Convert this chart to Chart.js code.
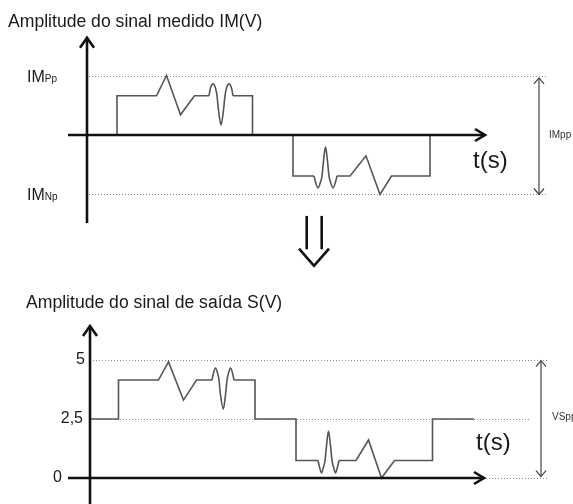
<!DOCTYPE html>
<html>
<head>
<meta charset="utf-8">
<script src="https://cdn.jsdelivr.net/npm/chart.js@4.4.1/dist/chart.umd.min.js"></script>
<style>
  html, body { margin: 0; padding: 0; background: #fff; }
  #wrap { width: 573px; height: 504px; }
</style>
</head>
<body>
<div id="wrap"><canvas id="sig" width="573" height="504"></canvas></div>
<script>
// Sinal medido IM(V): tempo (unidades arbitrárias) e amplitude normalizada (IMPp = 1, IMNp = -1)
const topStepT = [3.0, 3.0, 6.95, 7.95, 9.35, 10.75, 12.2, 13.4, 14.6, 16.55, 16.55, 20.6, 20.6, 22.7, 23.85, 25.0, 26.3, 27.9, 29.3, 30.45, 34.3, 34.3];
const topStepV = [0, 0.66, 0.66, 1.0, 0.34, 0.66, 0.66, null, 0.66, 0.66, 0, 0, -0.69, -0.69, null, -0.69, -0.69, -0.35, -1.0, -0.69, -0.69, 0];
const topRipple1T = [12.2, 12.35, 12.6, 12.85, 13.0, 13.15, 13.4, 13.65, 13.8, 13.95, 14.2, 14.45, 14.6];
const topRipple1V = [0.66, 0.79, 0.86, 0.79, 0.66, 0.42, 0.17, 0.42, 0.66, 0.79, 0.86, 0.79, 0.66];
const topRipple2T = [22.7, 22.85, 23.1, 23.35, 23.5, 23.65, 23.85, 24.05, 24.2, 24.35, 24.6, 24.85, 25.0];
const topRipple2V = [-0.69, -0.79, -0.89, -0.79, -0.69, -0.44, -0.2, -0.44, -0.69, -0.79, -0.89, -0.79, -0.69];

// Sinal de saída S(V)
const botStepT = [0, 2.85, 2.85, 6.85, 7.85, 9.35, 10.65, 12.2, 13.3, 14.4, 16.5, 16.5, 20.6, 20.6, 22.8, 23.85, 24.9, 26.6, 27.85, 29.15, 30.45, 34.25, 34.25, 38.4];
const botStepV = [2.5, 2.5, 4.15, 4.15, 4.92, 3.3, 4.15, 4.15, null, 4.15, 4.15, 2.5, 2.5, 0.74, 0.74, null, 0.74, 0.74, 1.61, 0, 0.74, 0.74, 2.5, 2.5];
const botRipple1T = [12.2, 12.35, 12.55, 12.75, 12.9, 13.05, 13.33, 13.55, 13.7, 13.85, 14.05, 14.25, 14.4];
const botRipple1V = [4.15, 4.45, 4.66, 4.45, 4.15, 3.52, 2.92, 3.52, 4.15, 4.45, 4.66, 4.45, 4.15];
const botRipple2T = [22.8, 22.95, 23.15, 23.35, 23.5, 23.65, 23.85, 24.05, 24.2, 24.35, 24.55, 24.75, 24.9];
const botRipple2V = [0.74, 0.47, 0.21, 0.47, 0.74, 1.36, 1.99, 1.36, 0.74, 0.47, 0.21, 0.47, 0.74];

// Níveis de referência e rótulos
const topLevels = [1, -1];
const topLevelLabels = [['IM', 'Pp'], ['IM', 'Np']];
const botTicks = [5, 2.5, 0];
const botTickLabels = ['5', '2,5', '0'];

const FONT = '"Liberation Sans", Arial, Helvetica, sans-serif';
const WAVE = '#555';
const INK = '#111';

const pts = (ts, vs) => ts.map((t, i) => ({ x: t, y: vs[i] }));

function wave(ts, vs, xId, yId, smooth) {
    return {
        data: pts(ts, vs),
        xAxisID: xId,
        yAxisID: yId,
        borderColor: WAVE,
        borderWidth: 1.6,
        pointRadius: 0,
        fill: false,
        spanGaps: false,
        tension: smooth ? 0.4 : 0,
        cubicInterpolationMode: smooth ? 'monotone' : 'default'
    };
}

function line(ctx, x1, y1, x2, y2) {
    ctx.beginPath();
    ctx.moveTo(x1, y1);
    ctx.lineTo(x2, y2);
    ctx.stroke();
}

// open chevron head at (x, y) pointing in direction (dx, dy)
function head(ctx, x, y, dx, dy, len, half) {
    const nx = -dy, ny = dx;
    ctx.beginPath();
    ctx.moveTo(x - dx * len + nx * half, y - dy * len + ny * half);
    ctx.lineTo(x, y);
    ctx.lineTo(x - dx * len - nx * half, y - dy * len - ny * half);
    ctx.stroke();
}

function dotted(ctx, x1, x2, y) {
    ctx.save();
    ctx.strokeStyle = '#888';
    ctx.lineWidth = 1;
    ctx.setLineDash([1, 2]);
    line(ctx, x1, Math.round(y) + 0.5, x2, Math.round(y) + 0.5);
    ctx.restore();
}

const decor = {
    id: 'decor',
    beforeDatasetsDraw(chart) {
        const ctx = chart.ctx;
        const xT = chart.scales.xTop, yT = chart.scales.yTop;
        const xB = chart.scales.xBot, yB = chart.scales.yBot;
        topLevels.forEach(v => dotted(ctx, xT.getPixelForValue(0.2), xT.getPixelForValue(45.9), yT.getPixelForValue(v)));
        dotted(ctx, xB.getPixelForValue(0.3), xB.getPixelForValue(45.7), yB.getPixelForValue(5));
        dotted(ctx, xB.getPixelForValue(0.3), xB.getPixelForValue(44.0), yB.getPixelForValue(2.5));
        dotted(ctx, xB.getPixelForValue(0.3), xB.getPixelForValue(45.8), yB.getPixelForValue(0));
    },
    afterDatasetsDraw(chart) {
        const ctx = chart.ctx;
        const xT = chart.scales.xTop, yT = chart.scales.yTop;
        const xB = chart.scales.xBot, yB = chart.scales.yBot;
        ctx.save();

        // eixos (preto, grossos, com ponta aberta)
        ctx.strokeStyle = INK;
        ctx.lineWidth = 2.6;
        ctx.lineJoin = 'miter';
        ctx.lineCap = 'butt';
        const axes = [[xT, yT, -1.48, 1.65, -1.9, 39.9], [xB, yB, -1.3, 6.48, -2.2, 39.5]];
        axes.forEach(([xs, ys, yLo, yHi, xLo, xHi]) => {
            const x0 = xs.getPixelForValue(0), y0 = ys.getPixelForValue(0);
            const top = ys.getPixelForValue(yHi);
            const right = xs.getPixelForValue(xHi);
            line(ctx, x0, ys.getPixelForValue(yLo), x0, top + 1);
            head(ctx, x0, top + 1, 0, -1, 10, 7);
            line(ctx, xs.getPixelForValue(xLo), y0, right - 1, y0);
            head(ctx, right - 1, y0, 1, 0, 10, 6);
        });

        // seta dupla para baixo entre os gráficos
        ctx.lineWidth = 2.6;
        const sL = xT.getPixelForValue(21.97), sR = xT.getPixelForValue(23.47);
        line(ctx, sL, yT.getPixelForValue(-1.36), sL, yT.getPixelForValue(-1.92));
        line(ctx, sR, yT.getPixelForValue(-1.36), sR, yT.getPixelForValue(-1.92));
        ctx.beginPath();
        ctx.moveTo(xT.getPixelForValue(21.2), yT.getPixelForValue(-1.91));
        ctx.lineTo(xT.getPixelForValue(22.7), yT.getPixelForValue(-2.2));
        ctx.lineTo(xT.getPixelForValue(24.2), yT.getPixelForValue(-1.91));
        ctx.stroke();

        // setas de amplitude pico a pico
        ctx.strokeStyle = '#444';
        ctx.lineWidth = 1.2;
        const pp = [[xT.getPixelForValue(45.2), yT.getPixelForValue(0.96), yT.getPixelForValue(-1)],
                    [xB.getPixelForValue(45.1), yB.getPixelForValue(4.97), yB.getPixelForValue(0.06)]];
        pp.forEach(([x, a, b]) => {
            line(ctx, x, a, x, b);
            head(ctx, x, a, 0, -1, 6, 5);
            head(ctx, x, b, 0, 1, 6, 5);
        });

        // textos
        ctx.fillStyle = '#1a1a1a';
        ctx.textBaseline = 'middle';
        ctx.textAlign = 'left';
        ctx.font = '17.6px ' + FONT;
        ctx.fillText('Amplitude do sinal medido IM(V)', xT.getPixelForValue(-7.9), yT.getPixelForValue(1.9));
        ctx.fillText('Amplitude do sinal de saída S(V)', xB.getPixelForValue(-6.4), yB.getPixelForValue(7.42));

        ctx.textBaseline = 'alphabetic';
        topLevels.forEach((v, i) => {
            const y = yT.getPixelForValue(v) + 6;
            let x = xT.getPixelForValue(-6.0);
            ctx.font = '16px ' + FONT;
            ctx.fillText(topLevelLabels[i][0], x, y);
            x += ctx.measureText(topLevelLabels[i][0]).width;
            ctx.font = '10px ' + FONT;
            ctx.fillText(topLevelLabels[i][1], x, y);
        });

        ctx.textBaseline = 'middle';
        ctx.textAlign = 'right';
        ctx.font = '16px ' + FONT;
        const tickX = [-0.5, -0.7, -2.8];
        botTicks.forEach((v, i) => {
            ctx.fillText(botTickLabels[i], xB.getPixelForValue(tickX[i]), yB.getPixelForValue(v));
        });

        ctx.textAlign = 'left';
        ctx.font = '24px ' + FONT;
        ctx.fillText('t(s)', xT.getPixelForValue(38.6), yT.getPixelForValue(-0.45));
        ctx.fillText('t(s)', xB.getPixelForValue(38.6), yB.getPixelForValue(1.48));

        ctx.font = '10px ' + FONT;
        ctx.fillStyle = '#333';
        ctx.fillText('IMpp', xT.getPixelForValue(46.2), yT.getPixelForValue(0));
        ctx.fillText('VSpp', xB.getPixelForValue(46.2), yB.getPixelForValue(2.58));

        ctx.restore();
    }
};

const hidden = (axis, min, max) => ({ type: 'linear', axis: axis, min: min, max: max, display: false });

new Chart(document.getElementById('sig'), {
    type: 'line',
    data: {
        datasets: [
            wave(topStepT, topStepV, 'xTop', 'yTop', false),
            wave(topRipple1T, topRipple1V, 'xTop', 'yTop', true),
            wave(topRipple2T, topRipple2V, 'xTop', 'yTop', true),
            wave(botStepT, botStepV, 'xBot', 'yBot', false),
            wave(botRipple1T, botRipple1V, 'xBot', 'yBot', true),
            wave(botRipple2T, botRipple2V, 'xBot', 'yBot', true)
        ]
    },
    options: {
        responsive: false,
        animation: false,
        layout: { padding: 0 },
        plugins: { legend: { display: false }, tooltip: { enabled: false }, title: { display: false } },
        scales: {
            xTop: hidden('x', -8.7, 48.6),
            yTop: hidden('y', -6.202, 2.269),
            xBot: hidden('x', -9.0, 48.3),
            yBot: hidden('y', -1.102, 20.254)
        }
    },
    plugins: [decor]
});
</script>
</body>
</html>
